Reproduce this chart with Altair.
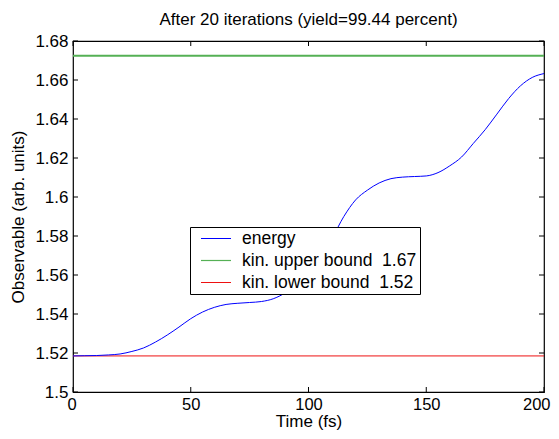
import altair as alt
import pandas as pd

# energy curve (time in fs, observable in arb. units)
t_energy = [0, 5, 10, 15, 20, 25, 30, 35, 40, 45, 50, 55, 60, 65, 70, 75, 80, 85, 90, 95,
            100, 105, 110, 115, 120, 125, 130, 135, 140, 145, 150, 155, 160, 165, 170,
            175, 180, 185, 190, 195, 200]
v_energy = [1.5185, 1.5186, 1.5187, 1.5190, 1.5195, 1.5208, 1.5226, 1.5256, 1.5292, 1.5333,
            1.5376, 1.5410, 1.5434, 1.5449, 1.5455, 1.5459, 1.5464, 1.5478, 1.5508, 1.5555,
            1.5625, 1.5705, 1.5790, 1.5900, 1.5985, 1.6035, 1.6072, 1.6094, 1.6102, 1.6105,
            1.6108, 1.6125, 1.6160, 1.6205, 1.6275, 1.6345, 1.6425, 1.6505, 1.6570, 1.6613,
            1.6633]

upper_bound = 1.6725
lower_bound = 1.5185
t_range = [0, 200]

series_names = ["energy", "kin. upper bound\u00a0 1.67", "kin. lower bound\u00a0 1.52"]
series_colors = ["#0000ff", "#55b055", "#ee1111"]

x_ticks = [0, 50, 100, 150, 200]
y_ticks = [1.5, 1.52, 1.54, 1.56, 1.58, 1.6, 1.62, 1.64, 1.66, 1.68]

df_e = pd.DataFrame({"t": t_energy, "v": v_energy, "s": series_names[0]})
df_u = pd.DataFrame({"t": t_range, "v": [upper_bound] * 2, "s": series_names[1]})
df_l = pd.DataFrame({"t": t_range, "v": [lower_bound] * 2, "s": series_names[2]})

W, H = 471, 351
FONT = "Liberation Sans"

xs = alt.Scale(domain=[0, 200], nice=False)
ys = alt.Scale(domain=[1.5, 1.68], nice=False, zero=False)

color = alt.Color("s:N", scale=alt.Scale(domain=series_names, range=series_colors),
                  legend=alt.Legend(title=None, orient="none", legendX=117, legendY=186,
                                    symbolType="stroke", symbolSize=900, symbolStrokeWidth=1.2,
                                    strokeColor="black", fillColor="white", padding=3,
                                    symbolOffset=7, labelOffset=10, labelFontSize=17.5,
                                    labelFont=FONT, labelColor="black", rowPadding=4,
                                    clipHeight=17, labelLimit=400))

xaxis = alt.Axis(values=x_ticks, title="Time (fs)", labelPadding=4, titlePadding=1,
                 labelFlush=True, labelFlushOffset=6, labelFontSize=16.5)
yaxis = alt.Axis(values=y_ticks, title="Observable (arb. units)",
                 labelExpr="format(datum.value, '.2~f')", labelPadding=5, titlePadding=7,
                 labelFlush=False)

def xenc(field):
    return alt.X(field, scale=xs, axis=xaxis)

def yenc(field):
    return alt.Y(field, scale=ys, axis=yaxis)

energy = alt.Chart(df_e).mark_line(interpolate="monotone", strokeWidth=1).encode(
    x=xenc("t:Q"), y=yenc("v:Q"), color=color)
upper = alt.Chart(df_u).mark_line(strokeWidth=2).encode(x=xenc("t:Q"), y=yenc("v:Q"), color=color)
lower = alt.Chart(df_l).mark_line(strokeWidth=1).encode(x=xenc("t:Q"), y=yenc("v:Q"), color=color)

xt = pd.DataFrame({"t": x_ticks})
yt = pd.DataFrame({"v": y_ticks})

xtick_bottom = alt.Chart(xt).mark_rule(color="black", strokeWidth=1).encode(
    x=xenc("t:Q"), y=alt.value(H), y2=alt.value(H - 5))
xtick_top = alt.Chart(xt).mark_rule(color="black", strokeWidth=1).encode(
    x=xenc("t:Q"), y=alt.value(0), y2=alt.value(5))
ytick_left = alt.Chart(yt).mark_rule(color="black", strokeWidth=1).encode(
    y=yenc("v:Q"), x=alt.value(0), x2=alt.value(5))
ytick_right = alt.Chart(yt).mark_rule(color="black", strokeWidth=1).encode(
    y=yenc("v:Q"), x=alt.value(W), x2=alt.value(W - 5))

chart = alt.layer(lower, upper, energy, xtick_bottom, xtick_top, ytick_left, ytick_right).properties(
    width=W, height=H,
    title=alt.TitleParams("After 20 iterations (yield=99.44 percent)", fontSize=17,
                          font=FONT, fontWeight="normal", color="black", offset=3),
    autosize=alt.AutoSizeParams(type="none"),
    padding={"left": 65, "top": 33, "right": 7, "bottom": 39},
    background="white",
).configure_view(
    stroke="black", strokeWidth=1.2
).configure_axis(
    domain=False, ticks=False, grid=False, labelFont=FONT, titleFont=FONT,
    labelFontSize=17, titleFontSize=17, labelColor="black", titleColor="black",
    titleFontWeight="normal"
)

chart.save("out.html", embed_options={"renderer": "svg", "actions": False})
